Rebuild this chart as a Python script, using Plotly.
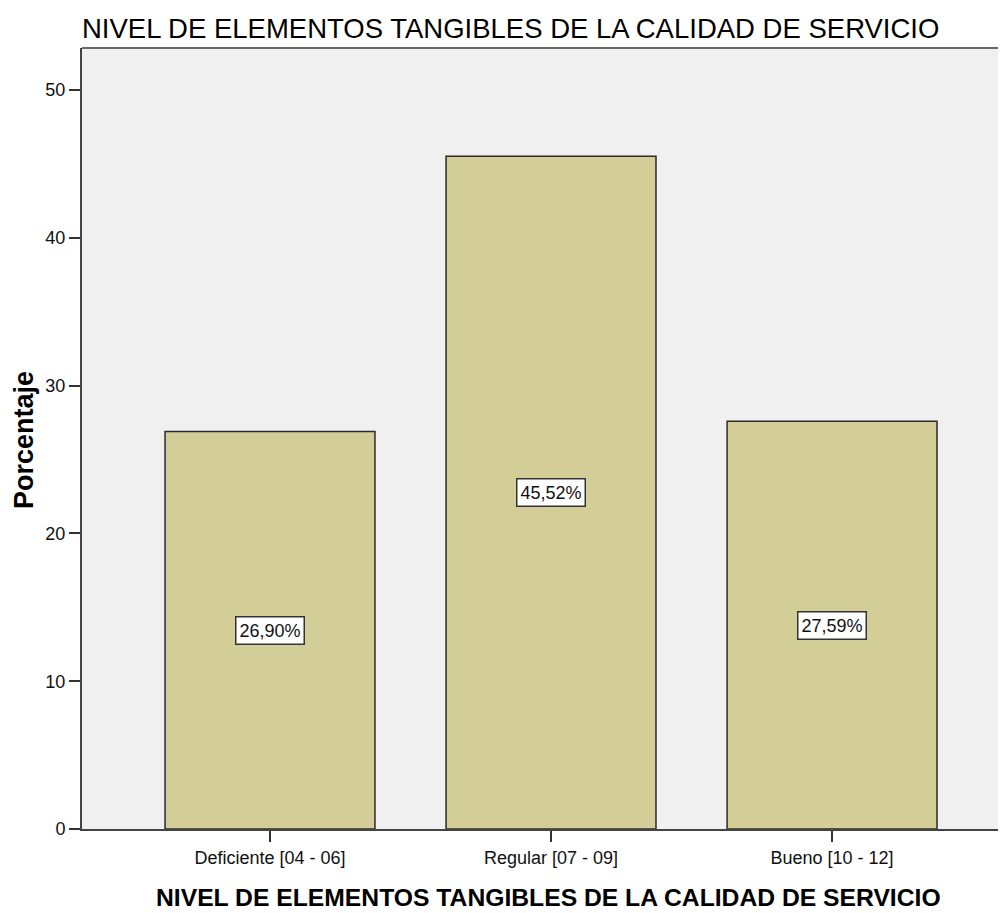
import plotly.graph_objects as go

categories = ["Deficiente [04 - 06]", "Regular [07 - 09]", "Bueno [10 - 12]"]
percentages = [26.90, 45.52, 27.59]
labels = ["26,90%", "45,52%", "27,59%"]
y_ticks = [0, 10, 20, 30, 40, 50]

OFF = 8  # browser body margin
W, H = 1006 - OFF, 913 - OFF
L, R, T, B = 82 - OFF, 0, 48 - OFF, 84
PW, PH = W - L - R, H - T - B


def page_to_paper(px, py):
    fx, fy = px - OFF, py - OFF
    return (fx - L) / PW, 1 - (fy - T) / PH


sans = "Liberation Sans, Arial, sans-serif"

fig = go.Figure()
fig.add_trace(go.Bar(
    x=list(range(len(categories))),
    y=percentages,
    width=0.747,
    marker=dict(color="#D3CD98", line=dict(color="#2b2b2b", width=1.5)),
    hoverinfo="skip",
))

for i, (v, t) in enumerate(zip(percentages, labels)):
    fig.add_annotation(
        x=i, y=v / 2, xref="x", yref="y", text=t, showarrow=False,
        font=dict(family=sans, size=18, color="#111"),
        bgcolor="white", bordercolor="#333", borderwidth=1.5, borderpad=3,
    )

ax, ay = page_to_paper(548, 897)
fig.add_annotation(
    x=ax, y=ay, xref="paper", yref="paper",
    text="<b>NIVEL DE ELEMENTOS TANGIBLES DE LA CALIDAD DE SERVICIO</b>",
    showarrow=False, xanchor="center", yanchor="middle",
    font=dict(family=sans, size=24.7, color="#000"),
)

yx, yy = page_to_paper(24, 440)
fig.add_annotation(
    x=yx, y=yy, xref="paper", yref="paper",
    text="<b>Porcentaje</b>", textangle=-90, showarrow=False,
    xanchor="center", yanchor="middle",
    font=dict(family=sans, size=27, color="#000"),
)

fig.add_shape(type="line", xref="paper", yref="paper", x0=0, x1=1, y0=1, y1=1,
              line=dict(color="#666", width=2))

fig.update_layout(
    width=W, height=H,
    margin=dict(l=L, r=R, t=T, b=B),
    paper_bgcolor="white",
    plot_bgcolor="#F0F0F0",
    showlegend=False,
    title=dict(
        text="NIVEL DE ELEMENTOS TANGIBLES DE LA CALIDAD DE SERVICIO",
        x=(82 - OFF) / W, xanchor="left", xref="container",
        y=1 - (28 - OFF) / H, yanchor="middle", yref="container",
        font=dict(family=sans, size=27.5, color="#000"),
    ),
    xaxis=dict(
        range=[-0.669, 2.619],
        tickvals=list(range(len(categories))),
        ticktext=categories,
        ticks="outside", ticklen=11, tickcolor="#333", tickwidth=1.5,
        showgrid=False, zeroline=False,
        showline=True, linecolor="#444", linewidth=2,
        tickfont=dict(family=sans, size=18, color="#111"),
        fixedrange=True,
    ),
    yaxis=dict(
        range=[0, 52.84],
        tickvals=y_ticks,
        ticks="outside", ticklen=11, tickcolor="#333", tickwidth=1.5,
        showgrid=False, zeroline=False,
        showline=True, linecolor="#444", linewidth=2,
        tickfont=dict(family=sans, size=18, color="#111"),
        fixedrange=True,
    ),
)

fig.write_html("out.html")
